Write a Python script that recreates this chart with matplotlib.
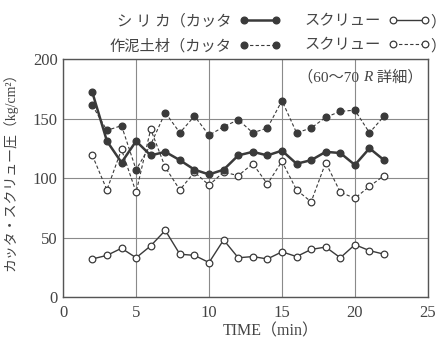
import matplotlib
matplotlib.use("Agg")
import matplotlib.pyplot as plt

plt.rcParams['font.family'] = ['Liberation Serif', 'Noto Sans CJK JP', 'DejaVu Sans']

time = list(range(2, 23))
silica_cutter = [172, 131, 113, 131, 119, 122, 115, 107, 103, 107, 119, 122, 119, 123, 112, 115, 122, 121, 111, 125, 115]
silica_screw = [32, 35, 41, 33, 43, 56, 36, 35, 29, 48, 33, 34, 32, 38, 34, 40, 42, 33, 44, 39, 36]
mud_cutter = [161, 140, 144, 107, 128, 155, 138, 152, 136, 143, 149, 138, 142, 165, 138, 142, 151, 156, 157, 138, 152]
mud_screw = [119, 90, 124, 88, 141, 109, 90, 105, 94, 105, 102, 112, 95, 114, 90, 80, 113, 88, 83, 93, 102]

legend_left = ['シ リ カ（カッタ', '作泥土材（カッタ']
legend_right = ['スクリュー', 'スクリュー']

ink = '#3a3a3a'
txt = '#444444'
fig = plt.figure(figsize=(4.48, 3.45), dpi=100)
ax = fig.add_axes([0.141, 0.139, 0.814, 0.69])

ms = 4.8
l_sc, = ax.plot(time, mud_cutter, ls=(0, (3, 2)), lw=0.8, color=ink, marker='o', ms=ms,
                mfc=ink, mec=ink, zorder=3)
l_ss, = ax.plot(time, mud_screw, ls=(0, (3, 2)), lw=0.8, color=ink, marker='o', ms=ms,
                mfc='white', mec=ink, mew=0.9, zorder=3)
l_c, = ax.plot(time, silica_cutter, ls='-', lw=1.8, color=ink, marker='o', ms=ms,
               mfc=ink, mec=ink, zorder=4)
l_s, = ax.plot(time, silica_screw, ls='-', lw=1.0, color=ink, marker='o', ms=ms,
               mfc='white', mec=ink, mew=0.9, zorder=4)

ax.set_xlim(0, 25)
ax.set_ylim(0, 200)
ax.set_xticks([0, 5, 10, 15, 20, 25])
ax.set_yticks([0, 50, 100, 150, 200])
ax.grid(True, color='#8a8a8a', lw=0.8)
ax.set_axisbelow(True)
for s in ax.spines.values():
    s.set_color('#555555')
    s.set_linewidth(1.0)
ax.tick_params(length=0, labelsize=12, colors=txt)
ax.tick_params(axis='x', pad=6)
ax.tick_params(axis='y', pad=4)

ax.set_xlabel('TIME（min）', fontsize=11.5, color=txt)
ax.xaxis.set_label_coords(0.57, -0.11)
ax.set_ylabel('カッタ・スクリュー圧（kg/cm²）', fontsize=10, color=txt)
ax.yaxis.set_label_coords(-0.125, 0.54)

t1 = ax.text(0.645, 0.955, '（60～70 ', transform=ax.transAxes, ha='left', va='top',
             fontsize=11, color=txt)
t2 = ax.annotate('R', xy=(1, 0), xycoords=t1, ha='left', va='bottom',
                 fontsize=11, color=txt, style='italic')
t3 = ax.annotate(' 詳細）', xy=(1, 0), xycoords=t2, ha='left', va='bottom',
                 fontsize=11, color=txt)

handles = [l_c, l_sc, l_s, l_ss]
labels = [legend_left[0], legend_left[1], legend_right[0], legend_right[1]]
leg = fig.legend(handles, labels, ncol=2, markerfirst=False, loc='upper right',
                 bbox_to_anchor=(0.99, 1.0), frameon=False, fontsize=11,
                 handlelength=2.7, columnspacing=1.6, labelspacing=0.7, handletextpad=0.5,
                 numpoints=2, labelcolor=txt)
fig.canvas.draw()
bb = leg.get_window_extent().transformed(fig.transFigure.inverted())
for t in leg.get_texts()[2:]:
    tb = t.get_window_extent().transformed(fig.transFigure.inverted())
    fig.text(bb.x1 - 0.012, (tb.y0 + tb.y1) / 2, '）', ha='left', va='center', fontsize=11,
             color=txt)

fig.savefig('out.png', dpi=100)
